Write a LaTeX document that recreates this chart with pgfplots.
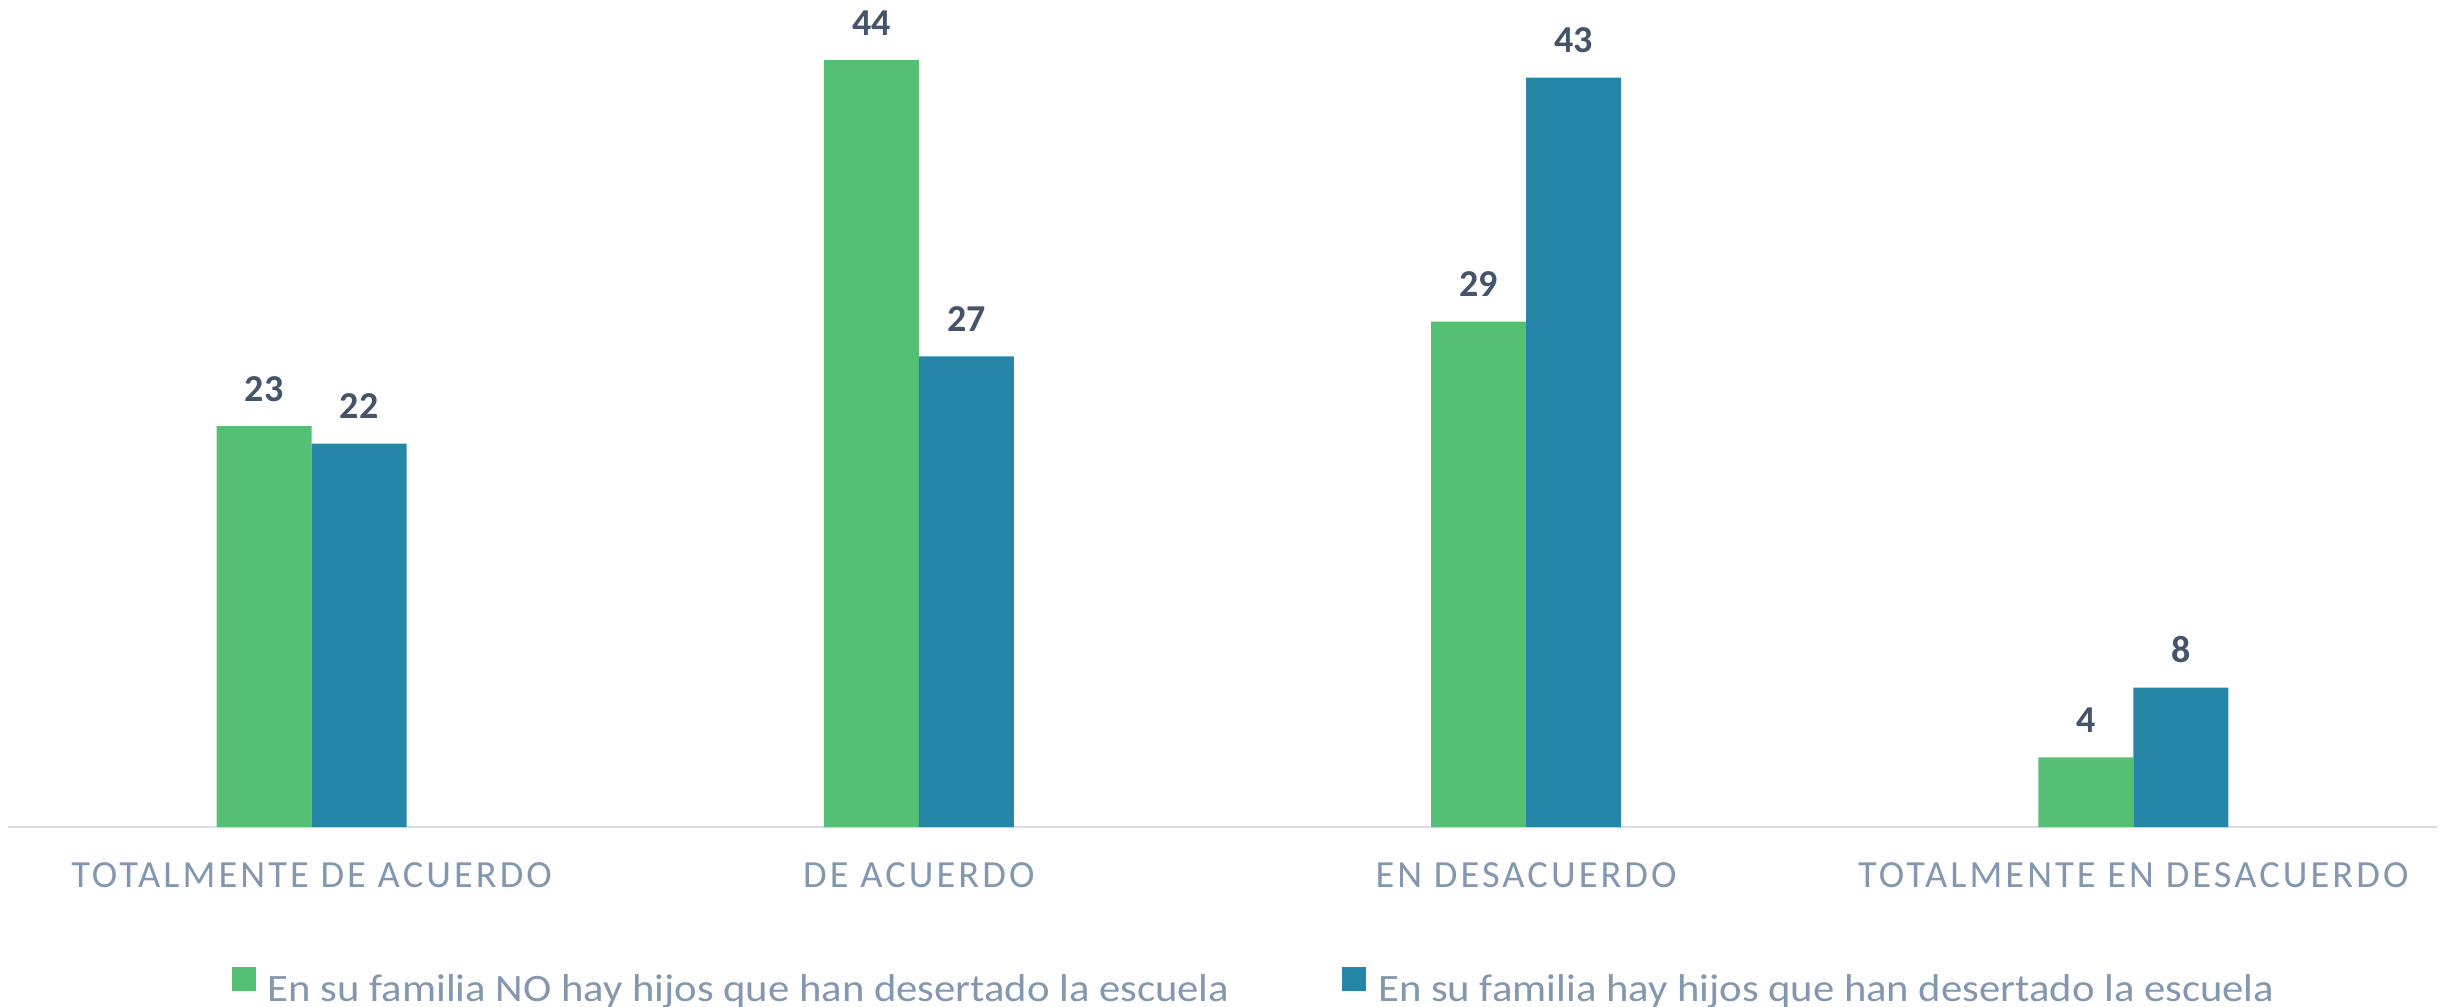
\documentclass[border=0pt]{standalone}
\usepackage{pgfplots}
\pgfplotsset{compat=1.18}
\usepackage{fontspec}
\setmainfont{Carlito}
\newfontfamily\tickfont[LetterSpace=8.0]{Carlito}
\newfontfamily\legfont[FakeStretch=1.1]{Carlito}
\definecolor{cgreen}{HTML}{55BF73}
\definecolor{cblue}{HTML}{2686A7}
\definecolor{labelc}{HTML}{44546A}
\definecolor{tickc}{HTML}{8497B0}
\definecolor{linec}{HTML}{D9DEE6}
\begin{document}
\begin{tikzpicture}
\begin{axis}[
  scale only axis,
  width=607.25pt, height=206.75pt,
  xmin=-0.5, xmax=3.5, ymin=0, ymax=47.45,
  ybar=0pt, bar width=23.75pt,
  axis x line*=bottom, axis y line=none,
  x axis line style={draw=linec, line width=0.5pt},
  xtick={0,1,2,3},
  xticklabels={TOTALMENTE DE ACUERDO, DE ACUERDO, EN DESACUERDO, TOTALMENTE EN DESACUERDO},
  major tick length=0pt,
  x tick label style={font=\tickfont\fontsize{9.6}{12}\selectfont, text=tickc, anchor=base, yshift=-15.2pt},
  clip=false,
  /pgf/number format/assume math mode=true,
  nodes near coords,
  every node near coord/.append style={font=\bfseries\fontsize{9.5}{11}\selectfont, text=labelc, anchor=base, yshift=6.25pt},
  legend columns=2,
  legend style={at={(0,0)}, anchor=north west, xshift=56pt, yshift=-35pt, draw=none, inner sep=0pt, outer sep=0pt,
    font=\legfont\fontsize{9.7}{12}\selectfont, text=tickc,
    nodes={inner sep=0pt, text=tickc},
    /tikz/every odd column/.append style={column sep=3pt},
    /tikz/every even column/.append style={column sep=28.25pt}},
  legend image code/.code={\fill[#1] (0pt,0pt) rectangle (6pt,6pt);},
]
\addplot[fill=cgreen, draw=none] coordinates {(0,23) (1,44) (2,29) (3,4)};
\addlegendentry{En su familia NO hay hijos que han desertado la escuela}
\addplot[fill=cblue, draw=none] coordinates {(0,22) (1,27) (2,43) (3,8)};
\addlegendentry{En su familia hay hijos que han desertado la escuela}
\end{axis}
\pgfresetboundingbox
\useasboundingbox (-2pt,-45pt) rectangle (609.25pt,206.75pt);
\end{tikzpicture}
\end{document}
